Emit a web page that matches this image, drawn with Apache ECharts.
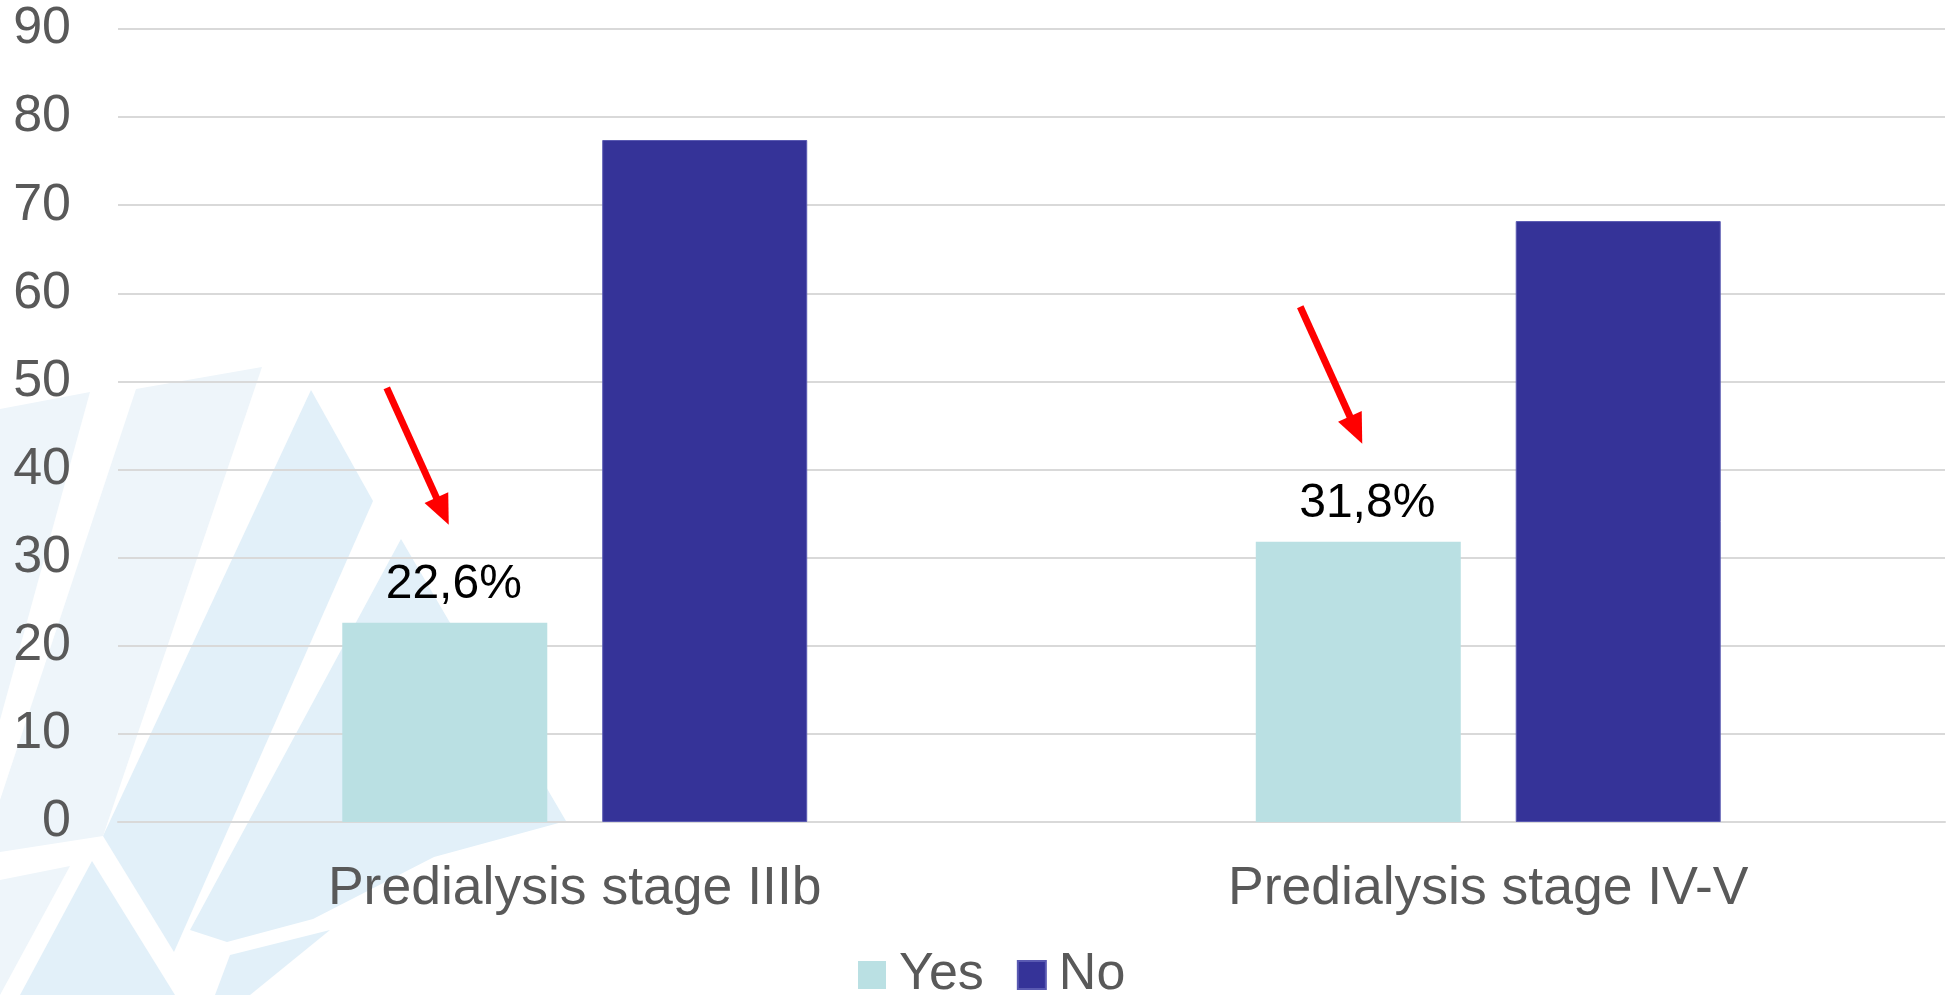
<!DOCTYPE html>
<html>
<head>
<meta charset="utf-8">
<script src="https://cdn.jsdelivr.net/npm/echarts@6/dist/echarts.min.js"></script>
<style>
  html, body { margin: 0; padding: 0; background: #fff; }
  #chart { width: 1952px; height: 995px; }
</style>
</head>
<body>
<div id="chart"></div>
<script>
const categories = ['Predialysis stage IIIb', 'Predialysis stage IV-V']
const yesValues = [22.6, 31.8]
const noValues = [77.4, 68.2]
const yesLabels = ['22,6%', '31,8%']

const FONT = 'Liberation Sans, Arial, sans-serif'
const GREY = '#595959'

// faint background watermark shapes (decoration only)
const light = '#EEF5FA'
const mid = '#E2F0F9'
const bgShapes = [
  { pts: [[0, 409], [90, 392], [0, 720]], c: light },
  { pts: [[136, 389], [262, 367], [103, 836], [0, 852], [0, 800]], c: light },
  { pts: [[311, 390], [373, 501], [174, 952], [103, 836]], c: mid },
  { pts: [[401, 539], [566, 821], [434, 857], [313, 919], [227, 942], [190, 930]], c: mid },
  { pts: [[92, 861], [175, 995], [20, 995]], c: mid },
  { pts: [[0, 880], [70, 866], [0, 995]], c: light },
  { pts: [[230, 955], [330, 930], [250, 995], [215, 995]], c: mid },
]

const chart = echarts.init(document.getElementById('chart'), null, { renderer: 'canvas' })

const BAR_W = 205
const BAR_GAP = 55

function renderArrow(params, api) {
  const p = api.coord([api.value(0), api.value(1)])
  // centre of the "Yes" bar (first bar in the group)
  const cx = p[0] - (BAR_W + BAR_GAP) / 2
  const tip = [cx + 4, p[1] - 98]
  const start = [tip[0] - 62, tip[1] - 137]
  const len = Math.hypot(tip[0] - start[0], tip[1] - start[1])
  const ux = (tip[0] - start[0]) / len, uy = (tip[1] - start[1]) / len
  const nx = -uy, ny = ux
  const hl = 30, hw = 13
  const base = [tip[0] - ux * hl, tip[1] - uy * hl]
  return {
    type: 'group',
    children: [
      { type: 'line', shape: { x1: start[0], y1: start[1], x2: base[0] + ux * 2, y2: base[1] + uy * 2 },
        style: { stroke: '#FF0000', lineWidth: 7 } },
      { type: 'polygon', shape: { points: [tip, [base[0] + nx * hw, base[1] + ny * hw], [base[0] - nx * hw, base[1] - ny * hw]] },
        style: { fill: '#FF0000' } },
    ],
  }
}

chart.setOption({
  backgroundColor: '#fff',
  animation: false,
  textStyle: { fontFamily: FONT },
  graphic: bgShapes.map(s => ({
    type: 'polygon', silent: true, z: -10,
    shape: { points: s.pts },
    style: { fill: s.c },
  })),
  grid: { left: 118, right: 7, top: 29, bottom: 173, outerBoundsMode: 'none' },
  legend: {
    data: ['Yes', 'No'],
    left: 853, top: 944,
    icon: 'rect', itemWidth: 28, itemHeight: 28, itemGap: 33,
    textStyle: { fontSize: 52, color: GREY, fontFamily: FONT, padding: [0, 0, 0, 8] },
  },
  xAxis: {
    type: 'category', data: categories,
    axisLine: { show: true, lineStyle: { color: '#D9D9D9', width: 2 } },
    axisTick: { show: false },
    axisLabel: { fontSize: 53.5, color: GREY, fontFamily: FONT, margin: 40 },
  },
  yAxis: {
    type: 'value', min: 0, max: 90, interval: 10,
    axisLine: { show: false }, axisTick: { show: false },
    axisLabel: { fontSize: 52, color: GREY, fontFamily: FONT, margin: 47 },
    splitLine: { lineStyle: { color: '#D9D9D9', width: 2 } },
  },
  series: [
    {
      name: 'Yes', type: 'bar', data: yesValues,
      barWidth: BAR_W, barGap: (BAR_GAP / BAR_W * 100).toFixed(1) + '%',
      itemStyle: { color: '#BAE0E3' },
      label: {
        show: true, position: 'top', distance: 14, offset: [9, 0],
        fontSize: 48, color: '#000', fontFamily: FONT,
        formatter: p => yesLabels[p.dataIndex],
      },
    },
    {
      name: 'No', type: 'bar', data: noValues,
      barWidth: BAR_W,
      itemStyle: { color: '#353398', borderColor: '#5a5ab2', borderWidth: 1 },
    },
    {
      name: 'arrows', type: 'custom', silent: true, z: 5,
      data: yesValues.map((v, i) => [i, v]),
      encode: { x: 0, y: 1 },
      renderItem: renderArrow,
    },
  ],
})
</script>
</body>
</html>
